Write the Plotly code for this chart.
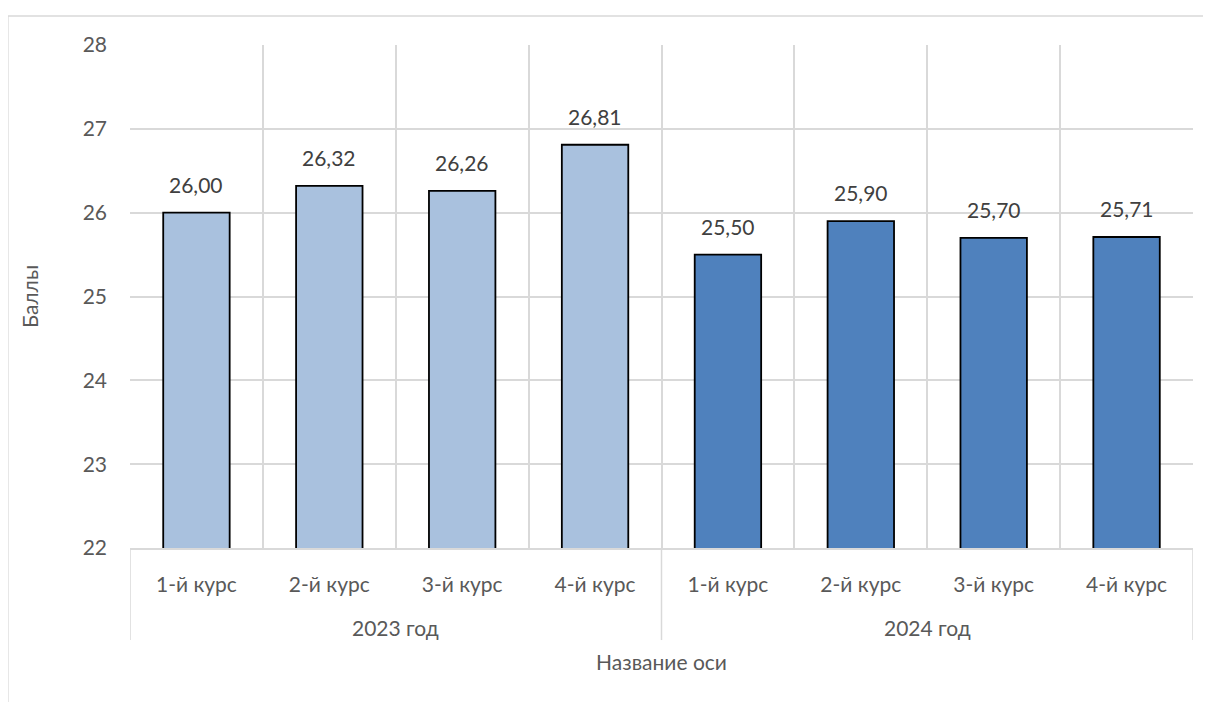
import plotly.graph_objects as go

years = ["2023 год", "2024 год"]
courses = ["1-й курс", "2-й курс", "3-й курс", "4-й курс"]
values_2023 = [26.00, 26.32, 26.26, 26.81]
values_2024 = [25.50, 25.90, 25.70, 25.71]
color_2023 = "#a9c1de"
color_2024 = "#4f81bd"

FONT = "Lato, 'Open Sans', sans-serif"
GRID = "#d9d9d9"
TXT = "#595959"

values = values_2023 + values_2024
n = len(values)
xs = list(range(n))
colors = [color_2023] * len(values_2023) + [color_2024] * len(values_2024)
ticktext = courses * len(years)
labels = [f"{v:.2f}".replace(".", ",") for v in values]

fig = go.Figure(go.Bar(
    x=xs, y=values,
    marker=dict(color=colors, line=dict(color="#000000", width=1.8)),
    width=0.5,
    hoverinfo="skip",
))

annotations = []
for x, v, t in zip(xs, values, labels):
    annotations.append(dict(x=x, y=v, xref="x", yref="y", text=t, showarrow=False,
                            yanchor="bottom", yshift=14,
                            font=dict(size=21, color="#404040", family=FONT)))
# group labels (centre of each year's categories)
shapes = []
per = len(courses)
for g, name in enumerate(years):
    centre = (g * per + (g + 1) * per - 1) / 2
    annotations.append(dict(x=centre, y=-0.159, xref="x", yref="paper", text=name,
                            showarrow=False, yanchor="middle",
                            font=dict(size=21, color=TXT, family=FONT)))
for b in range(len(years) + 1):
    xb = b * per - 0.5
    shapes.append(dict(type="line", xref="x", yref="paper", x0=xb, x1=xb,
                       y0=0, y1=-0.183, line=dict(color=GRID, width=1.5)))
# outer chart border
shapes.append(dict(type="rect", xref="paper", yref="paper",
                   x0=-0.1148, x1=1.05, y0=-0.5, y1=1.0577,
                   line=dict(color=GRID, width=1.3), layer="below"))

fig.update_layout(
    width=1203, height=694,
    margin=dict(l=122, r=18, t=37, b=154),
    paper_bgcolor="white", plot_bgcolor="white",
    font=dict(family=FONT, size=21, color=TXT),
    showlegend=False,
    bargap=0.5,
    xaxis=dict(
        range=[-0.5, n - 0.5],
        tickvals=xs, ticktext=ticktext,
        showgrid=False, zeroline=False,
        minor=dict(tickvals=[i - 0.5 for i in range(n + 1)], showgrid=True,
                   gridcolor=GRID, gridwidth=1.5, ticks=""),
        showline=True, linecolor=GRID, linewidth=1.5,
        ticks="", ticklabelstandoff=17,
        tickfont=dict(size=21, color=TXT),
        title=dict(text="Название оси", font=dict(size=21, color=TXT), standoff=60),
    ),
    yaxis=dict(
        range=[22, 28], dtick=1, tickformat="d",
        showgrid=True, gridcolor=GRID, gridwidth=1.5,
        zeroline=False, ticks="", ticklabelstandoff=22,
        tickfont=dict(size=21, color=TXT),
        title=dict(text="Баллы", font=dict(size=21, color=TXT), standoff=38),
    ),
    annotations=annotations,
    shapes=shapes,
)

fig.write_html("out.html")
